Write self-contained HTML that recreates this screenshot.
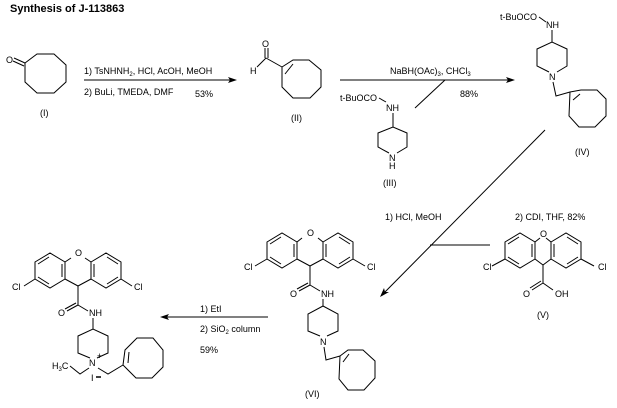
<!DOCTYPE html>
<html><head><meta charset="utf-8"><style>
body{margin:0;background:#fff;}
svg{display:block;}
text{font-family:"Liberation Sans",sans-serif;font-size:9px;fill:#000;}
.b{stroke:#000;stroke-width:1;fill:none;}
</style></head><body>
<svg width="617" height="408" viewBox="0 0 617 408">
<text x="10" y="12" style="font-weight:bold;font-size:11px">Synthesis of J-113863</text>

<!-- I -->
<polygon class="b" points="25,63 37,54 54,54 66,65 66,82 54,93 37,93 25,82"/>
<line class="b" x1="25" y1="63" x2="14" y2="58"/><line class="b" x1="24" y1="66" x2="13" y2="61"/>
<text x="6" y="63">O</text>
<text x="40" y="116">(I)</text>

<!-- arrow 1 -->
<line class="b" x1="84" y1="80" x2="234" y2="80"/>
<polygon points="237,80 228,77 230,80 228,83"/>
<text x="84" y="74">1) TsNHNH<tspan font-size="6" dy="2">2</tspan><tspan dy="-2">, HCl, AcOH, MeOH</tspan></text>
<text x="84" y="95">2) BuLi, TMEDA, DMF</text>
<text x="195" y="97">53%</text>

<!-- II -->
<polygon class="b" points="282,67 293,60 309,60 321,70 321,87 310,98 293,98 282,87"/>
<line class="b" x1="285" y1="74" x2="293" y2="64"/>
<line class="b" x1="282" y1="67" x2="266" y2="58"/>
<line class="b" x1="265" y1="58" x2="265" y2="48"/><line class="b" x1="268" y1="58" x2="268" y2="48"/>
<text x="262" y="47">O</text>
<line class="b" x1="266" y1="58" x2="257" y2="67"/>
<text x="250" y="74">H</text>
<text x="291" y="121">(II)</text>

<!-- arrow 2 -->
<line class="b" x1="340" y1="80" x2="512" y2="80"/>
<polygon points="515,80 506,77 508,80 506,83"/>
<text x="390" y="74">NaBH(OAc)<tspan font-size="6" dy="2">3</tspan><tspan dy="-2">, CHCl</tspan><tspan font-size="6" dy="2">3</tspan></text>
<text x="460" y="97">88%</text>
<line class="b" x1="445" y1="80" x2="415" y2="108"/>

<!-- III -->
<text x="340" y="101">t-BuOCO</text>
<line class="b" x1="379" y1="98" x2="386" y2="102"/>
<text x="386" y="111">NH</text>
<line class="b" x1="393" y1="113" x2="393" y2="127"/>
<polyline class="b" points="389,153 378,147 378,133 393,127 407,133 407,147 397,153"/>
<text x="389" y="161">N</text><text x="389" y="169">H</text>
<text x="383" y="186">(III)</text>

<!-- IV -->
<text x="500" y="20">t-BuOCO</text>
<line class="b" x1="539" y1="17" x2="546" y2="22"/>
<text x="546" y="28">NH</text>
<line class="b" x1="552" y1="30" x2="552" y2="42"/>
<polyline class="b" points="549,72 537,66 537,49 552,42 567,49 567,66 557,72"/>
<text x="549" y="80">N</text>
<polyline class="b" points="553,82 556,96 570,92"/>
<polygon class="b" points="570,92 581,90 597,90 606,99 606,116 595,127 579,127 569,116"/>
<line class="b" x1="573" y1="100" x2="580" y2="94"/>
<text x="575" y="155">(IV)</text>

<!-- diagonal arrow -->
<line class="b" x1="545" y1="130" x2="383" y2="294"/>
<polygon points="380,297 384,288 385,292 389,292"/>
<line class="b" x1="430" y1="245" x2="490" y2="245"/>
<text x="385" y="220">1) HCl, MeOH</text>
<text x="515" y="220">2) CDI, THF,  82%</text>

<!-- V -->
<polygon class="b" points="505,242 520,233 535,242 535,259 520,268 505,259"/>
<polygon class="b" points="551,242 566,233 581,242 581,259 566,268 551,259"/>
<line class="b" x1="508" y1="244" x2="519" y2="237"/><line class="b" x1="532" y1="244" x2="532" y2="257"/><line class="b" x1="508" y1="257" x2="519" y2="264"/>
<line class="b" x1="554" y1="244" x2="554" y2="257"/><line class="b" x1="567" y1="237" x2="578" y2="244"/><line class="b" x1="567" y1="264" x2="578" y2="257"/>
<line class="b" x1="535" y1="242" x2="540" y2="238"/><line class="b" x1="551" y1="242" x2="546" y2="238"/>
<text x="540" y="237">O</text>
<polyline class="b" points="535,259 543,265 551,259"/>
<line class="b" x1="505" y1="259" x2="492" y2="266"/><text x="483" y="270">Cl</text>
<line class="b" x1="581" y1="259" x2="594" y2="266"/><text x="598" y="270">Cl</text>
<line class="b" x1="543" y1="265" x2="543" y2="283"/>
<line class="b" x1="543" y1="283" x2="532" y2="290"/><line class="b" x1="541" y1="281" x2="530" y2="288"/>
<line class="b" x1="543" y1="283" x2="553" y2="290"/>
<text x="523" y="297">O</text><text x="555" y="297">OH</text>
<text x="537" y="318">(V)</text>

<!-- VI -->
<polygon class="b" points="267,242 282,233 297,242 297,259 282,268 267,259"/>
<polygon class="b" points="323,242 338,233 353,242 353,259 338,268 323,259"/>
<line class="b" x1="270" y1="244" x2="281" y2="237"/><line class="b" x1="294" y1="244" x2="294" y2="257"/><line class="b" x1="270" y1="257" x2="281" y2="264"/>
<line class="b" x1="326" y1="244" x2="326" y2="257"/><line class="b" x1="339" y1="237" x2="350" y2="244"/><line class="b" x1="339" y1="264" x2="350" y2="257"/>
<line class="b" x1="297" y1="242" x2="302" y2="238"/><line class="b" x1="323" y1="242" x2="318" y2="238"/>
<text x="307" y="236">O</text>
<polyline class="b" points="297,259 310,266 323,259"/>
<line class="b" x1="267" y1="259" x2="255" y2="266"/><text x="244" y="270">Cl</text>
<line class="b" x1="353" y1="259" x2="365" y2="266"/><text x="367" y="270">Cl</text>
<line class="b" x1="310" y1="266" x2="310" y2="285"/>
<line class="b" x1="310" y1="285" x2="299" y2="291"/><line class="b" x1="308" y1="283" x2="297" y2="289"/>
<line class="b" x1="310" y1="285" x2="320" y2="291"/>
<text x="290" y="297">O</text><text x="321" y="297">NH</text>
<line class="b" x1="323" y1="299" x2="323" y2="306"/>
<polyline class="b" points="320,336 308,331 308,314 323,306 338,314 338,331 327,336"/>
<text x="320" y="345">N</text>
<polyline class="b" points="324,347 326,360 340,356"/>
<polygon class="b" points="340,356 348,350 363,350 375,361 375,378 364,390 348,390 339,379"/>
<line class="b" x1="343" y1="362" x2="349" y2="354"/>
<text x="305" y="397">(VI)</text>

<!-- arrow 3 -->
<line class="b" x1="268" y1="317" x2="163" y2="317"/>
<polygon points="160,317 169,314 167,317 169,320"/>
<text x="200" y="312">1) EtI</text>
<text x="200" y="332">2) SiO<tspan font-size="6" dy="2">2</tspan><tspan dy="-2"> column</tspan></text>
<text x="200" y="353">59%</text>

<!-- final -->
<polygon class="b" points="35,262 50,253 65,262 65,279 50,288 35,279"/>
<polygon class="b" points="91,262 106,253 121,262 121,279 106,288 91,279"/>
<line class="b" x1="38" y1="264" x2="49" y2="257"/><line class="b" x1="62" y1="264" x2="62" y2="277"/><line class="b" x1="38" y1="277" x2="49" y2="284"/>
<line class="b" x1="94" y1="264" x2="94" y2="277"/><line class="b" x1="107" y1="257" x2="118" y2="264"/><line class="b" x1="107" y1="284" x2="118" y2="277"/>
<line class="b" x1="65" y1="262" x2="71" y2="258"/><line class="b" x1="91" y1="262" x2="85" y2="258"/>
<text x="75" y="256">O</text>
<polyline class="b" points="65,279 78,286 91,279"/>
<line class="b" x1="35" y1="279" x2="24" y2="286"/><text x="12" y="290">Cl</text>
<line class="b" x1="121" y1="279" x2="132" y2="286"/><text x="134" y="290">Cl</text>
<line class="b" x1="78" y1="286" x2="78" y2="305"/>
<line class="b" x1="78" y1="305" x2="67" y2="311"/><line class="b" x1="76" y1="303" x2="65" y2="309"/>
<line class="b" x1="78" y1="305" x2="88" y2="311"/>
<text x="58" y="316">O</text><text x="89" y="316">NH</text>
<line class="b" x1="93" y1="318" x2="93" y2="329"/>
<polyline class="b" points="90,358 78,353 78,336 93,329 108,336 108,353 97,358"/>
<text x="89" y="366">N</text><text x="97" y="359" font-size="6">+</text>
<text x="52" y="369">H<tspan font-size="6" dy="2">3</tspan><tspan dy="-2">C</tspan></text>
<polyline class="b" points="70,366 80,374 89,368"/>
<text x="91" y="381">I</text><line class="b" x1="96" y1="377" x2="101" y2="377" style="stroke-width:1.5"/>
<polyline class="b" points="98,368 108,374 123,365"/>
<polygon class="b" points="123,365 125,350 137,338 153,338 163,350 163,367 152,378 136,378"/>
<line class="b" x1="128" y1="363" x2="129" y2="352"/>
</svg>
</body></html>
